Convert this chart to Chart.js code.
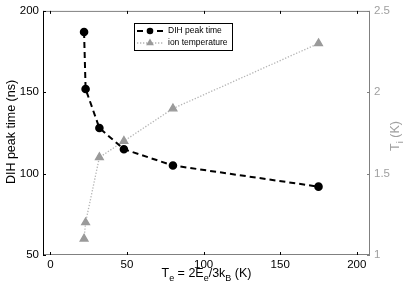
<!DOCTYPE html>
<html>
<head>
<meta charset="utf-8">
<script src="https://cdn.jsdelivr.net/npm/chart.js@4"></script>
<style>
    body { margin: 0; background: #fff; }
    #wrap { width: 415px; height: 290px; }
</style>
</head>
<body>
<div id="wrap"><canvas id="chart"></canvas></div>
<script>
// electron temperature (K)
const electronTemp = [22, 23, 32, 48, 80, 175];
// DIH peak time (ns), left axis
const peakTime = [187, 152, 128, 115, 105, 92];
// ion temperature (K), right axis
const ionTemp = [1.1, 1.2, 1.6, 1.7, 1.9, 2.3];

const xTicks = [0, 50, 100, 150, 200];
const leftTicks = [50, 100, 150, 200];
const rightTicks = [1, 1.5, 2, 2.5];

const grey = '#808080';
const FONT = '"Liberation Sans", Arial, sans-serif';

function setTicks(list) {
    return scale => { scale.ticks = list.map(v => ({ value: v })); };
}

// text with subscripts, centered on x
function drawParts(ctx, parts, x, y, size) {
    const subSize = size * 0.72;
    let total = 0;
    parts.forEach(p => {
        ctx.font = (p[1] ? subSize : size) + 'px ' + FONT;
        total += ctx.measureText(p[0]).width;
    });
    let cx = x - total / 2;
    ctx.textAlign = 'left';
    ctx.textBaseline = 'middle';
    parts.forEach(p => {
        ctx.font = (p[1] ? subSize : size) + 'px ' + FONT;
        ctx.fillText(p[0], cx, y + (p[1] ? size * 0.38 : 0));
        cx += ctx.measureText(p[0]).width;
    });
}

const framePlugin = {
    id: 'frame',
    afterDraw(chart) {
        const ctx = chart.ctx;
        const a = chart.chartArea;
        const sx = chart.scales.x, sy = chart.scales.y, sy1 = chart.scales.y1;
        ctx.save();
        ctx.lineWidth = 1;

        // box
        ctx.strokeStyle = grey;
        ctx.beginPath();
        ctx.moveTo(a.left, a.top + 0.5); ctx.lineTo(a.right, a.top + 0.5);
        ctx.moveTo(a.left, a.bottom - 0.5); ctx.lineTo(a.right, a.bottom - 0.5);
        ctx.moveTo(a.right - 0.5, a.top); ctx.lineTo(a.right - 0.5, a.bottom);
        ctx.stroke();
        ctx.strokeStyle = '#000';
        ctx.beginPath();
        ctx.moveTo(a.left + 0.5, a.top); ctx.lineTo(a.left + 0.5, a.bottom);
        ctx.stroke();

        // inward ticks
        ctx.strokeStyle = '#000';
        ctx.beginPath();
        xTicks.forEach(v => {
            const px = Math.round(sx.getPixelForValue(v)) + 0.5;
            ctx.moveTo(px, a.bottom); ctx.lineTo(px, a.bottom - 3);
            ctx.moveTo(px, a.top); ctx.lineTo(px, a.top + 3);
        });
        leftTicks.forEach(v => {
            const py = Math.round(sy.getPixelForValue(v)) + 0.5;
            ctx.moveTo(a.left, py); ctx.lineTo(a.left + 3, py);
        });
        ctx.stroke();
        ctx.strokeStyle = grey;
        ctx.beginPath();
        rightTicks.forEach(v => {
            const py = Math.round(sy1.getPixelForValue(v)) + 0.5;
            ctx.moveTo(a.right, py); ctx.lineTo(a.right - 3, py);
        });
        ctx.stroke();

        // axis titles
        ctx.fillStyle = '#000';
        drawParts(ctx, [['T', 0], ['e', 1], [' = 2E', 0], ['e', 1], ['/3k', 0], ['B', 1], [' (K)', 0]],
            (a.left + a.right) / 2, 274, 12.5);

        ctx.save();
        ctx.translate(12, 132);
        ctx.rotate(-Math.PI / 2);
        drawParts(ctx, [['DIH peak time (ns)', 0]], 0, 0, 12.5);
        ctx.restore();

        ctx.save();
        ctx.fillStyle = '#a0a0a0';
        ctx.translate(396, 136);
        ctx.rotate(-Math.PI / 2);
        drawParts(ctx, [['T', 0], ['i', 1], [' (K)', 0]], 0, 0, 12.5);
        ctx.restore();

        // legend
        const lx = 134, ly = 23, lw = 98, lh = 27;
        ctx.fillStyle = '#fff';
        ctx.fillRect(lx, ly, lw, lh);
        ctx.strokeStyle = '#000';
        ctx.strokeRect(lx + 0.5, ly + 0.5, lw, lh);
        chart.data.datasets.forEach((ds, i) => {
            const y = ly + 8 + i * 12;
            ctx.strokeStyle = ds.borderColor;
            ctx.lineWidth = ds.borderWidth;
            ctx.setLineDash(ds.borderDash);
            ctx.beginPath();
            ctx.moveTo(lx + 3, y); ctx.lineTo(lx + 30, y);
            ctx.stroke();
            ctx.setLineDash([]);
            ctx.fillStyle = ds.pointBackgroundColor;
            ctx.beginPath();
            if (ds.pointStyle === 'triangle') {
                const r = ds.pointRadius;
                ctx.moveTo(lx + 16, y - r);
                ctx.lineTo(lx + 16 + r * 0.87, y + r * 0.5);
                ctx.lineTo(lx + 16 - r * 0.87, y + r * 0.5);
                ctx.closePath();
            } else {
                ctx.arc(lx + 16, y, ds.pointRadius, 0, Math.PI * 2);
            }
            ctx.fill();
            ctx.fillStyle = '#000';
            ctx.font = '8.5px ' + FONT;
            ctx.textAlign = 'left';
            ctx.textBaseline = 'middle';
            ctx.fillText(ds.label, lx + 34, y);
        });
        ctx.restore();
    }
};

new Chart(document.getElementById('chart'), {
    type: 'scatter',
    data: {
        datasets: [
            {
                label: 'DIH peak time',
                data: electronTemp.map((x, i) => ({ x: x, y: peakTime[i] })),
                yAxisID: 'y',
                showLine: true,
                borderColor: '#000',
                borderWidth: 2,
                borderDash: [6, 4],
                pointStyle: 'circle',
                pointRadius: 3.3,
                pointBackgroundColor: '#000',
                pointBorderColor: '#000',
                order: 1
            },
            {
                label: 'ion temperature',
                data: electronTemp.map((x, i) => ({ x: x, y: ionTemp[i] })),
                yAxisID: 'y1',
                showLine: true,
                borderColor: '#b4b4b4',
                borderWidth: 1.3,
                borderDash: [1.3, 1.7],
                pointStyle: 'triangle',
                pointRadius: 4.5,
                pointBackgroundColor: '#9a9a9a',
                pointBorderColor: '#9a9a9a',
                order: 2
            }
        ]
    },
    options: {
        responsive: true,
        maintainAspectRatio: false,
        animation: false,
        layout: { padding: { top: 9, left: 0, right: 0, bottom: 0 } },
        plugins: { legend: { display: false }, tooltip: { enabled: false } },
        scales: {
            x: {
                type: 'linear',
                min: -4.8,
                max: 208.6,
                afterBuildTicks: setTicks(xTicks),
                afterFit: s => { s.height = 35; },
                grid: { display: false, drawTicks: false },
                border: { display: false },
                ticks: { color: '#000', padding: 3, font: { family: FONT, size: 11.5 } }
            },
            y: {
                position: 'left',
                min: 50,
                max: 200,
                afterBuildTicks: setTicks(leftTicks),
                afterFit: s => { s.width = 43; },
                grid: { display: false, drawTicks: false },
                border: { display: false },
                ticks: { color: '#000', padding: 4, font: { family: FONT, size: 11.5 } }
            },
            y1: {
                position: 'right',
                min: 1,
                max: 2.5,
                afterBuildTicks: setTicks(rightTicks),
                afterFit: s => { s.width = 45; },
                grid: { display: false, drawTicks: false },
                border: { display: false },
                ticks: {
                    color: '#a0a0a0',
                    padding: 4,
                    font: { family: FONT, size: 11.5 },
                    callback: v => String(v)
                }
            }
        }
    },
    plugins: [framePlugin]
});
</script>
</body>
</html>
